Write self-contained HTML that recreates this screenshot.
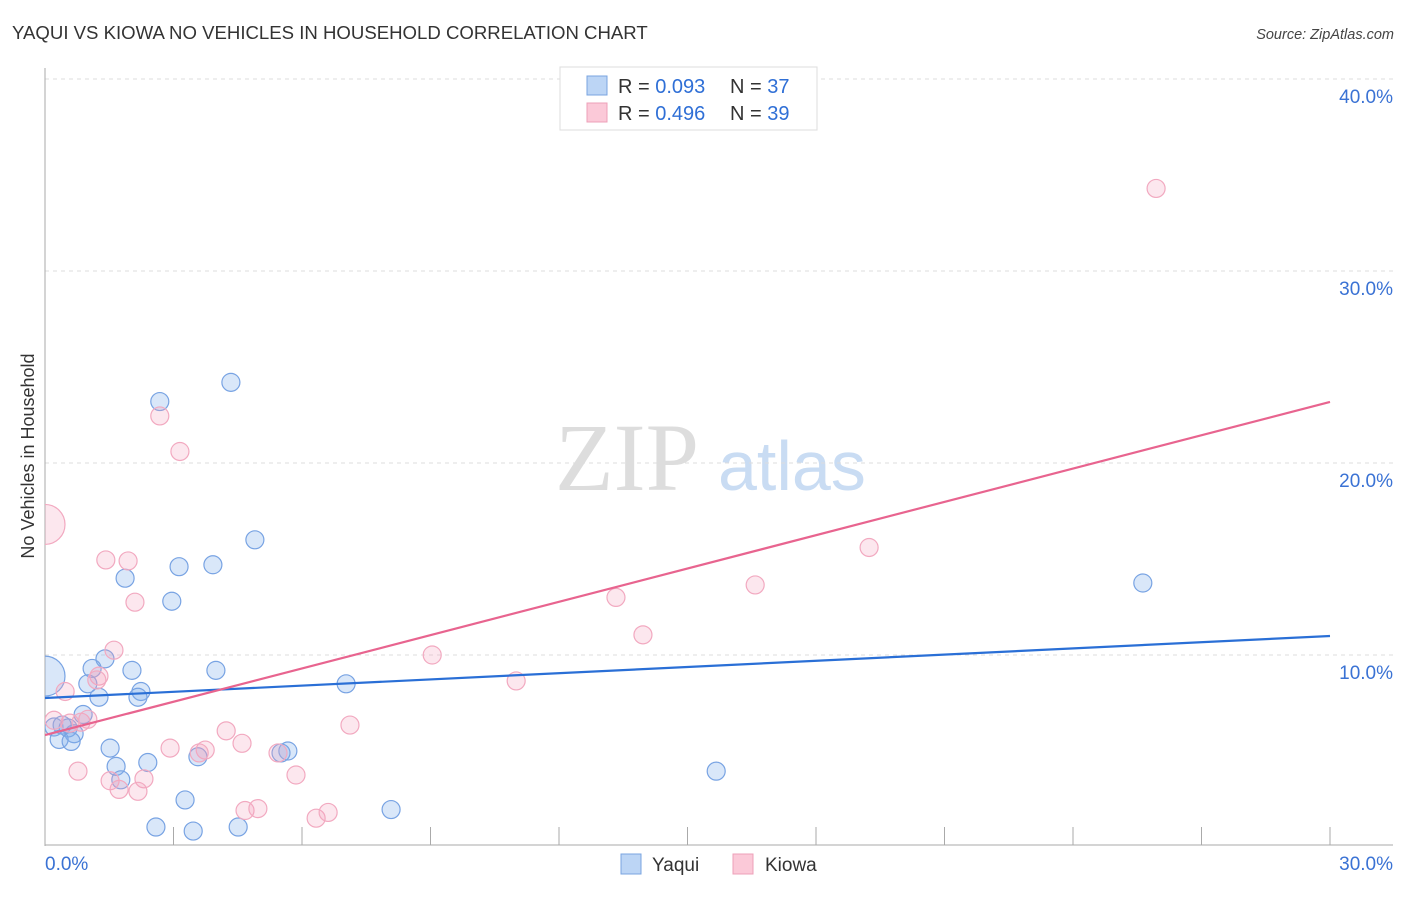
<!DOCTYPE html>
<html><head><meta charset="utf-8"><style>
body{margin:0;background:#fff;font-family:"Liberation Sans",sans-serif}
svg text{font-family:"Liberation Sans",sans-serif}
</style></head><body>
<svg id="c" width="1406" height="892">
<defs><clipPath id="plot"><rect x="45" y="60" width="1360" height="786"/></clipPath></defs>
<text x="12" y="39" font-size="18.6" fill="#333">YAQUI VS KIOWA NO VEHICLES IN HOUSEHOLD CORRELATION CHART</text>
<text x="1394" y="39" font-size="14.5" fill="#444" font-style="italic" text-anchor="end">Source: ZipAtlas.com</text>
<text transform="translate(34,456) rotate(-90)" font-size="18" fill="#333" text-anchor="middle">No Vehicles in Household</text>
<g>
<text x="555" y="490" font-size="96" fill="#ddd" font-family="Liberation Serif" style="font-family:'Liberation Serif',serif">ZIP</text>
<text x="718" y="490" font-size="70" fill="#c9dcf3">atlas</text>
</g>
<g id="grid"></g><g id="axes"></g><g id="pts" clip-path="url(#plot)"></g><g id="lines"></g>
<g>
<rect x="560" y="67" width="257" height="63" fill="#fff" stroke="#ddd"/>
<rect x="587" y="76" width="20" height="19" fill="#bcd5f5" stroke="#7aa4e0"/>
<rect x="587" y="103" width="20" height="19" fill="#fbc9d8" stroke="#eea0b8"/>
<text x="618" y="93" font-size="20" fill="#333">R = <tspan fill="#2f6fd6">0.093</tspan></text>
<text x="730" y="93" font-size="20" fill="#333">N = <tspan fill="#2f6fd6">37</tspan></text>
<text x="618" y="120" font-size="20" fill="#333">R = <tspan fill="#2f6fd6">0.496</tspan></text>
<text x="730" y="120" font-size="20" fill="#333">N = <tspan fill="#2f6fd6">39</tspan></text>
</g>
<g>
<rect x="621" y="854" width="20" height="20" fill="#bcd5f5" stroke="#7aa4e0"/>
<text x="652" y="871" font-size="19" fill="#333">Yaqui</text>
<rect x="733" y="854" width="20" height="20" fill="#fbc9d8" stroke="#eea0b8"/>
<text x="765" y="871" font-size="19" fill="#333">Kiowa</text>
</g>
</svg>
<script>
const yTicks=[10,20,30,40];
const yTickLabels=["10.0%","20.0%","30.0%","40.0%"];
const xTickLabels=["0.0%","30.0%"];
const yaquiX=[0,2.68,4.34,4.9,1.87,3.13,3.92,2.96,1.4,1.1,2.03,3.99,1.0,2.24,2.17,1.26,7.03,25.63,0.89,0.21,0.4,0.54,0.68,0.33,0.61,1.52,1.66,1.77,2.4,5.67,5.51,3.57,15.67,3.27,8.08,2.59,3.46,4.51];
const yaquiY=[8.9,23.2,24.2,16.0,14.0,14.6,14.7,12.8,9.8,9.3,9.2,9.2,8.5,8.1,7.8,7.8,8.5,13.75,6.9,6.25,6.35,6.2,5.9,5.6,5.5,5.15,4.2,3.5,4.4,5.0,4.9,4.7,3.95,2.45,1.95,1.04,0.83,1.04];
const kiowaX=[0,25.94,2.68,3.15,1.42,1.94,2.1,1.61,19.24,16.58,13.33,13.96,9.04,11.0,1.26,0.47,1.21,0.21,0.84,1.0,0.58,7.12,4.23,2.92,3.74,4.6,5.44,3.6,5.86,0.77,1.52,2.31,1.73,2.17,4.67,4.97,6.33,6.61];
const kiowaY=[16.8,34.3,22.45,20.6,14.95,14.9,12.75,10.25,15.6,13.65,13.0,11.05,10.0,8.65,8.9,8.1,8.7,6.6,6.5,6.65,6.45,6.35,6.05,5.15,5.05,5.4,4.9,4.9,3.75,3.95,3.45,3.55,3.0,2.9,1.9,2.0,1.5,1.8];
const yaquiTrend=[7.76,10.99];
const kiowaTrend=[5.83,23.18];
const NS="http://www.w3.org/2000/svg";
const X=v=>45+v*1285/30, Y=v=>847-v*19.2;
function mk(t,a,p){const e=document.createElementNS(NS,t);for(const k in a)e.setAttribute(k,a[k]);document.getElementById(p).appendChild(e);return e;}
yTicks.forEach((t,i)=>{
 const l=mk('line',{x1:45,x2:1393,y1:Y(t),y2:Y(t),stroke:'#ddd','stroke-dasharray':'4,4'},'grid');
 
 
 const tx=mk('text',{x:1393,y:Y(t)+24,'font-size':19,fill:'#3a72d4','text-anchor':'end'},'grid');
 tx.textContent=yTickLabels[i];
 
 
});
let a=mk('line',{x1:45,x2:45,y1:68,y2:846,stroke:'#aaa'},'axes');


a=mk('line',{x1:45,x2:1393,y1:845,y2:845,stroke:'#aaa'},'axes');


for(let i=1;i<=10;i++){const x=X(i*3);
 const t=mk('line',{x1:x,x2:x,y1:827,y2:845,stroke:'#aaa'},'axes');
 
 }
[[0,'start',45],[30,'end',1393]].forEach((d,i)=>{
 const t=mk('text',{x:d[2],y:870,'font-size':19,fill:'#3a72d4','text-anchor':d[1]},'axes');
 t.textContent=xTickLabels[i];
 
 });
function pts(xs,ys,fill,stroke,name){xs.forEach((x,i)=>{
 const r=(x===0)?20:9;
 const c=mk('circle',{cx:X(x),cy:Y(ys[i]),r:r,fill:fill,stroke:stroke,'stroke-width':1.2},'pts');
 
 });}
pts(yaquiX,yaquiY,'rgba(130,175,235,0.3)','#78a3e3','yaqui-point');
pts(kiowaX,kiowaY,'rgba(245,160,188,0.25)','#f2a9c0','kiowa-point');
let L=mk('line',{x1:X(0),x2:X(30),y1:Y(yaquiTrend[0]),y2:Y(yaquiTrend[1]),stroke:'#2a6fd6','stroke-width':2.2},'lines');


L=mk('line',{x1:X(0),x2:X(30),y1:Y(kiowaTrend[0]),y2:Y(kiowaTrend[1]),stroke:'#e8648f','stroke-width':2.2},'lines');


</script>
</body></html>
